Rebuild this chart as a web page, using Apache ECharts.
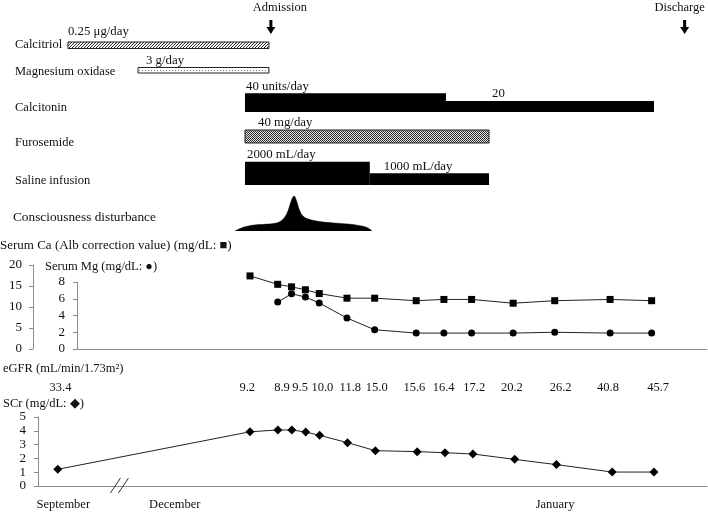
<!DOCTYPE html>
<html><head><meta charset="utf-8">
<script src="https://cdn.jsdelivr.net/npm/echarts@6/dist/echarts.min.js"></script>
<style>html,body{margin:0;padding:0;background:#fff}#c{width:708px;height:512px}</style>
</head><body><div id="c"></div>
<script>
// ================= DATA =================
// day index relative to the first December measurement (September point placed before the axis break)
const measureDays = [0, 2, 3, 4, 5, 7, 9, 12, 14, 16, 19, 22, 26, 29];
const caValues    = [17.4, 15.4, 14.8, 14.1, 13.2, 12.1, 12.1, 11.5, 11.8, 11.8, 10.9, 11.5, 11.8, 11.5];
const mgDays      = [2, 3, 4, 5, 7, 9, 12, 14, 16, 19, 22, 26, 29];
const mgValues    = [5.6, 6.6, 6.2, 5.5, 3.7, 2.3, 1.9, 1.9, 1.9, 1.9, 2.0, 1.9, 1.9];
const scrDays     = [-13.8, 0, 2, 3, 4, 5, 7, 9, 12, 14, 16, 19, 22, 26, 29];
const scrValues   = [1.21, 3.93, 4.06, 4.06, 3.91, 3.67, 3.14, 2.56, 2.49, 2.41, 2.32, 1.93, 1.55, 1.01, 1.01];
const egfrDays    = [-13.6, -0.2, 2.3, 3.6, 5.2, 7.2, 9.1, 11.8, 13.9, 16.1, 18.8, 22.3, 25.7, 29.3];
const egfrValues  = ['33.4', '9.2', '8.9', '9.5', '10.0', '11.8', '15.0', '15.6', '16.4', '17.2', '20.2', '26.2', '40.8', '45.7'];
const monthNames  = ['September', 'December', 'January'];
const monthDays   = [-13.4, -5.4, 21.9];
const breakDays   = [-9.3];
const eventNames  = ['Admission', 'Discharge'];
const eventDays   = [1.5, 31.2];
const drugNames   = ['Calcitriol', 'Magnesium oxidase', 'Calcitonin', 'Furosemide', 'Saline infusion'];
const segDrug     = [0, 1, 2, 2, 3, 4, 4];
const segStart    = [-13.07, -8.04, -0.36, 14.07, -0.36, -0.36, 8.6];
const segEnd      = [1.36, 1.36, 14.07, 29, 17.16, 8.6, 17.16];
const segDose     = ['0.25 \u03bcg/day', '3 g/day', '40 units/day', '20', '40 mg/day', '2000 mL/day', '1000 mL/day'];
const consDays    = [-1.08, -0.7, -0.36, 0.3, 1.0, 1.8, 2.2, 2.5, 2.75, 2.95, 3.16, 3.35, 3.55, 3.8, 4.2, 5.0, 6.0, 7.0, 7.8, 8.4, 8.76];
const consLevel   = [0, 0.07, 0.12, 0.17, 0.19, 0.22, 0.28, 0.4, 0.6, 0.85, 1.0, 0.85, 0.6, 0.43, 0.34, 0.27, 0.23, 0.2, 0.16, 0.1, 0];

// ================= STYLE / LAYOUT =================
const FONT = '"Liberation Serif","Times New Roman",serif';
const TXT = '#111';
const X0 = 250, PPD = 13.93, PPD_CA = 13.85, W = 708;
function xr(left, right, ppd) { return { min: (left - X0) / ppd, max: (W - right - X0) / ppd }; }
const rowBottom = [48.5, 73, 112, 143, 185];
const segHeight = [6.5, 5.5, 18.7, 11, 13, 23.3, 11.7];
const segPattern = ['diag', 'dots', 'solid', 'solid', 'check', 'solid', 'solid'];
const labelDx = [0, 8, 1, 46, 13, 2, 14];
const labelDy = [-3, 0, 0, 0, 0, 0, 0];
const eventTextDx = [9, -5];

function makePattern(kind) {
  const c = document.createElement('canvas');
  const ctx = c.getContext('2d');
  if (kind === 'diag') {
    c.width = 3; c.height = 3;
    ctx.fillStyle = '#fff'; ctx.fillRect(0, 0, 3, 3);
    ctx.fillStyle = '#222';
    for (let i = 0; i < 3; i++) ctx.fillRect(i, 2 - i, 1, 1);
  } else if (kind === 'dots') {
    c.width = 3; c.height = 3;
    ctx.fillStyle = '#fff'; ctx.fillRect(0, 0, 3, 3);
    ctx.fillStyle = '#777'; ctx.fillRect(1, 1, 1, 1);
  } else if (kind === 'check') {
    c.width = 2; c.height = 2;
    ctx.fillStyle = '#e6e6e6'; ctx.fillRect(0, 0, 2, 2);
    ctx.fillStyle = '#2a2a2a'; ctx.fillRect(0, 0, 1, 1); ctx.fillRect(1, 1, 1, 1);
  }
  return { image: c, repeat: 'repeat' };
}
const patterns = { diag: makePattern('diag'), dots: makePattern('dots'), check: makePattern('check') };

const axisGrey = '#8c8c8c';
function yAx(grid, min, max, interval, margin) {
  return {
    type: 'value', gridIndex: grid, min, max, interval,
    axisLine: { show: true, onZero: false, lineStyle: { color: axisGrey, width: 1 } },
    axisTick: { show: true, inside: false, length: 4, lineStyle: { color: axisGrey } },
    axisLabel: { margin, color: TXT, fontFamily: FONT, fontSize: 13 },
    splitLine: { show: false }
  };
}
function hiddenY(grid, min, max, inverse) {
  return { type: 'value', gridIndex: grid, min, max, inverse: !!inverse, show: false };
}
function hiddenX(grid, r) {
  return { type: 'value', gridIndex: grid, min: r.min, max: r.max, show: false };
}

const rowLabels = [
  ['Calcitriol', 15, 45, 12.5], ['Magnesium oxidase', 15, 72, 12.5], ['Calcitonin', 15, 108, 12.5],
  ['Furosemide', 15, 143, 12.5], ['Saline infusion', 15, 181, 12.5], ['Consciousness disturbance', 13, 218, 13.3],
  ['Serum Ca (Alb correction value) (mg/dL: \u25a0)', 0, 246, 13], ['Serum Mg (mg/dL: \u25cf)', 45, 267, 12.5],
  ['eGFR (mL/min/1.73m\u00b2)', 3, 369, 12.5], ['SCr (mg/dL: \u25c6)', 3, 404, 12.5]
];

const chart = echarts.init(document.getElementById('c'), null, { renderer: 'canvas' });

const gDrug = xr(0, 0, PPD), gCons = xr(0, 0, PPD), gCa = xr(33, 1, PPD_CA), gMg = xr(77, 1, PPD_CA),
      gEg = xr(0, 0, PPD), gScr = xr(38, 1, PPD);

const option = {
  animation: false,
  backgroundColor: '#fff',
  textStyle: { fontFamily: FONT },
  grid: [
    { left: 0, right: 0, top: 0, height: 240, outerBoundsMode: 'none' },
    { left: 0, right: 0, top: 196, height: 35, outerBoundsMode: 'none' },
    { left: 33, right: 1, top: 265, height: 84, outerBoundsMode: 'none' },
    { left: 77, right: 1, top: 282, height: 67, outerBoundsMode: 'none' },
    { left: 0, right: 0, top: 380, height: 16, outerBoundsMode: 'none' },
    { left: 38, right: 1, top: 417, height: 69, outerBoundsMode: 'none' }
  ],
  xAxis: [
    hiddenX(0, gDrug), hiddenX(1, gCons), hiddenX(2, gCa),
    { type: 'value', gridIndex: 3, min: gMg.min, max: gMg.max,
      axisLine: { show: true, onZero: false, lineStyle: { color: axisGrey } }, axisTick: { show: false },
      axisLabel: { show: false }, splitLine: { show: false } },
    hiddenX(4, gEg),
    { type: 'value', gridIndex: 5, min: gScr.min, max: gScr.max,
      axisLine: { show: true, onZero: false, lineStyle: { color: axisGrey } }, axisTick: { show: false },
      axisLabel: { show: true, customValues: monthDays, margin: 12, color: TXT, fontFamily: FONT, fontSize: 12.5,
        formatter: function (v) {
          let best = 0;
          monthDays.forEach(function (d, i) { if (Math.abs(d - v) < Math.abs(monthDays[best] - v)) best = i; });
          return monthNames[best];
        } },
      splitLine: { show: false } }
  ],
  yAxis: [
    hiddenY(0, 0, 240, true), hiddenY(1, 0, 1), yAx(2, 0, 20, 5, 11), yAx(3, 0, 8, 2, 12),
    hiddenY(4, 0, 1), yAx(5, 0, 5, 1, 12)
  ],
  graphic: rowLabels.map(function (r) {
    return { type: 'text', x: r[1], y: r[2], silent: true,
      style: { text: r[0], font: r[3] + 'px ' + FONT, fill: TXT, verticalAlign: 'middle', align: 'left' } };
  }),
  series: [
    { // drug bars
      type: 'custom', xAxisIndex: 0, yAxisIndex: 0, clip: false,
      data: segStart.map(function (s, i) { return [s, segEnd[i], i]; }),
      renderItem: function (params, api) {
        const i = api.value(2);
        const b = rowBottom[segDrug[i]];
        const p0 = api.coord([api.value(0), b]);
        const p1 = api.coord([api.value(1), b - segHeight[i]]);
        const kind = segPattern[i];
        const fill = kind === 'solid' ? '#000' : patterns[kind];
        return { type: 'group', children: [
          { type: 'rect', shape: { x: p0[0], y: p1[1], width: p1[0] - p0[0], height: p0[1] - p1[1] },
            style: { fill: fill, stroke: kind === 'solid' ? null : '#222', lineWidth: kind === 'solid' ? 0 : 1 } },
          { type: 'text', x: p0[0] + labelDx[i], y: p1[1] - 7 + labelDy[i],
            style: { text: segDose[i], font: '12.8px ' + FONT, fill: TXT, verticalAlign: 'middle', align: 'left' } }
        ] };
      }
    },
    { // admission / discharge arrows
      type: 'custom', xAxisIndex: 0, yAxisIndex: 0, clip: false,
      data: eventDays.map(function (d, i) { return [d, i]; }),
      renderItem: function (params, api) {
        const i = api.value(1);
        const x = api.coord([api.value(0), 0])[0];
        return { type: 'group', children: [
          { type: 'text', x: x + eventTextDx[i], y: 8,
            style: { text: eventNames[i], font: '12.5px ' + FONT, fill: TXT, align: 'center', verticalAlign: 'middle' } },
          { type: 'rect', shape: { x: x - 1.5, y: 20, width: 3, height: 8 }, style: { fill: '#000' } },
          { type: 'polygon', shape: { points: [[x - 4.5, 27], [x + 4.5, 27], [x, 34]] }, style: { fill: '#000' } }
        ] };
      }
    },
    { // consciousness disturbance
      type: 'line', xAxisIndex: 1, yAxisIndex: 1, symbol: 'none', smooth: 0.4,
      data: consDays.map(function (d, i) { return [d, consLevel[i]]; }),
      lineStyle: { width: 0.5, color: '#000' }, areaStyle: { color: '#000', opacity: 1 }
    },
    { // serum Ca
      type: 'line', xAxisIndex: 2, yAxisIndex: 2, symbol: 'rect', symbolSize: 7,
      data: measureDays.map(function (d, i) { return [d, caValues[i]]; }),
      itemStyle: { color: '#000' }, lineStyle: { color: '#222', width: 1 }
    },
    { // serum Mg
      type: 'line', xAxisIndex: 3, yAxisIndex: 3, symbol: 'circle', symbolSize: 7,
      data: mgDays.map(function (d, i) { return [d, mgValues[i]]; }),
      itemStyle: { color: '#000' }, lineStyle: { color: '#222', width: 1 }
    },
    { // eGFR labels
      type: 'custom', xAxisIndex: 4, yAxisIndex: 4, clip: false,
      data: egfrDays.map(function (d, i) { return [d, i]; }),
      renderItem: function (params, api) {
        const p = api.coord([api.value(0), 0.5]);
        return { type: 'text', x: p[0], y: p[1],
          style: { text: egfrValues[api.value(1)], font: '12.5px ' + FONT, fill: TXT, align: 'center', verticalAlign: 'middle' } };
      }
    },
    { // SCr
      type: 'line', xAxisIndex: 5, yAxisIndex: 5, symbol: 'diamond', symbolSize: 9,
      data: scrDays.map(function (d, i) { return [d, scrValues[i]]; }),
      itemStyle: { color: '#000' }, lineStyle: { color: '#222', width: 1 }
    },
    { // axis break marks
      type: 'custom', xAxisIndex: 5, yAxisIndex: 5, clip: false,
      data: breakDays.map(function (d) { return [d, 0]; }),
      renderItem: function (params, api) {
        const p = api.coord([api.value(0), 0]);
        const x = p[0], y = p[1];
        return { type: 'group', children: [
          { type: 'line', shape: { x1: x - 10, y1: y + 7, x2: x, y2: y - 8 }, style: { stroke: '#333', lineWidth: 1 } },
          { type: 'line', shape: { x1: x - 2, y1: y + 7, x2: x + 8, y2: y - 8 }, style: { stroke: '#333', lineWidth: 1 } }
        ] };
      }
    }
  ]
};
chart.setOption(option);
</script></body></html>
